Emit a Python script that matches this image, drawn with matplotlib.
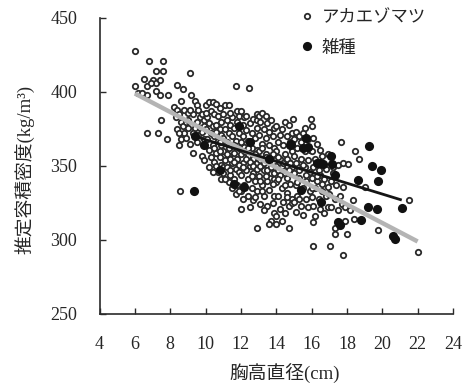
import matplotlib
matplotlib.use("Agg")
import matplotlib.pyplot as plt
import numpy as np

# ---- data ----
aka_pts = [
    (6.0,428),(6.0,404),(6.8,421),(7.6,421),(7.2,414),(7.6,414),(6.5,409),(7.0,408),(7.2,406),(7.4,408),
    (6.7,404),(6.9,406),(6.2,399),(6.7,398),(7.2,401),(7.4,398),(7.9,398),(6.7,372),(7.3,372),(7.5,381),
    (7.8,368),(6.4,399),(9.1,413),(8.4,405),(8.75,402),
    (8.2,390),(8.4,388),(8.3,383),(8.5,385),(8.6,380),(8.4,375),(8.7,377),(8.9,380),(8.8,372),(8.5,372),
    (9.0,376),(8.6,368),(8.5,364),(8.9,369),(9.1,365),(8.8,388),(9.0,386),(8.6,394),(8.55,333),
    (9.2,398),(9.4,394),(9.5,391),(9.3,385),(9.6,388),(9.7,383),(9.5,380),(9.8,385),(9.9,381),(9.4,376),
    (9.7,376),(9.9,377),(9.3,372),(9.6,371),(9.8,373),(9.5,366),(9.9,368),(9.3,359),(9.8,357),(9.9,354),
    (9.1,388),(9.0,381),
    (10.0,391),(10.2,393),(10.4,393),(10.6,392),(10.8,389),(10.3,387),(10.5,385),(10.1,383),(10.7,384),(10.9,380),
    (10.2,379),(10.4,377),(10.6,378),(10.0,375),(10.8,375),(10.3,372),(10.5,370),(10.9,371),(10.1,368),(10.7,367),
    (10.4,364),(10.9,364),(10.2,361),(10.6,359),(10.8,356),(10.5,353),(10.9,351),(10.3,356),(10.7,346),(11.0,349),
    (10.6,373),(10.0,386),(10.9,341),(10.6,350),
    (11.1,391),(11.3,391),(11.0,385),(11.2,381),(11.5,383),(11.4,378),(11.1,375),(11.6,376),(11.8,380),(11.3,372),
    (11.0,369),(11.5,370),(11.9,372),(11.2,366),(11.7,367),(11.4,363),(11.0,360),(11.9,362),(11.6,359),(11.3,357),
    (11.1,354),(11.8,355),(11.5,352),(11.2,349),(11.7,348),(11.0,345),(11.4,344),(11.9,346),(11.6,341),(11.3,339),
    (11.8,337),(11.5,335),(11.1,341),(11.75,404),(11.8,387),(11.9,384),(11.7,331),(11.4,386),
    (12.0,387),(12.2,383),(12.45,403),(12.5,379),(12.1,378),(12.7,382),(12.9,385),(12.3,374),(12.6,372),(12.9,376),
    (12.1,370),(12.4,367),(12.8,369),(12.2,363),(12.6,362),(12.0,358),(12.9,361),(12.4,357),(12.7,355),(12.1,352),
    (12.5,350),(12.9,352),(12.3,347),(12.7,345),(12.0,344),(12.4,341),(12.8,340),(12.2,337),(12.6,335),(12.0,333),
    (12.9,333),(12.4,330),(12.1,328),(12.7,327),(12.0,321),(12.5,322),(12.9,381),(12.3,384),
    (13.0,384),(13.2,386),(13.4,384),(13.1,380),(13.5,379),(13.7,381),(13.3,375),(13.6,373),(13.9,376),(13.0,371),
    (13.4,369),(13.8,370),(13.2,365),(13.6,364),(13.0,360),(13.9,362),(13.4,358),(13.7,356),(13.1,354),(13.5,351),
    (13.9,352),(13.3,347),(13.7,345),(13.0,343),(13.5,340),(13.9,341),(13.2,337),(13.6,334),(13.9,330),(13.3,330),
    (13.8,325),(13.5,323),(13.1,324),(13.9,318),(13.7,313),(12.9,308),(13.3,320),(13.6,311),
    (14.0,377),(14.3,375),(14.5,380),(14.7,378),(14.96,382),(14.2,371),(14.6,370),(14.9,372),(14.1,366),(14.4,364),
    (14.8,366),(14.0,360),(14.5,358),(14.9,360),(14.2,355),(14.7,353),(14.0,350),(14.4,348),(14.9,349),(14.2,344),
    (14.6,342),(14.0,339),(14.8,338),(14.3,335),(14.6,332),(14.1,330),(14.9,328),(14.4,326),(14.7,323),(14.2,321),
    (14.5,318),(14.0,316),(14.3,313),(14.7,308),(14.0,311),(14.9,325),
    (15.1,373),(15.3,370),(15.5,372),(15.0,368),(15.4,366),(15.8,368),(15.2,362),(15.6,360),(15.9,361),(15.0,357),
    (15.4,355),(15.8,354),(15.2,350),(15.6,349),(15.0,345),(15.9,346),(15.3,342),(15.7,340),(15.1,337),(15.5,335),
    (15.9,333),(15.2,330),(15.7,328),(15.0,326),(15.4,323),(15.8,322),(15.1,319),(15.5,317),(15.95,382),(15.6,376),
    (16.0,377),(16.1,369),(16.3,365),(16.0,360),(16.5,361),(16.2,355),(16.6,357),(16.9,358),(16.1,349),(16.4,347),
    (16.8,348),(16.0,342),(16.3,340),(16.7,341),(16.2,335),(16.6,333),(16.9,336),(16.0,329),(16.4,328),(16.8,330),
    (16.1,323),(16.5,321),(16.9,322),(16.2,316),(16.1,312),(16.7,318),(16.1,296),(16.5,344),
    (17.2,349),(17.5,351),(17.1,340),(17.4,337),(17.8,336),(17.0,331),(17.3,328),(17.7,324),(17.1,322),(17.5,320),
    (17.9,322),(17.66,366),(17.3,308),(17.3,304),(17.98,304),(17.04,296),(17.8,290),(17.2,345),(17.9,313),(17.6,330),
    (17.8,352),
    (18.07,351.5),(18.45,360.4),(18.35,327),(18.4,314),(19.0,336),(18.7,355),(19.77,307),(21.5,327),(22.04,292),(18.2,320),
    (10.5,362),(10.8,360),(11.2,358),(11.4,355),(11.6,353),(11.9,351),(12.1,349),(12.3,355),(12.5,353),(12.7,350),
    (12.9,348),(13.1,350),(13.3,352),(13.5,347),(13.7,349),(13.9,345),(14.1,347),(14.3,350),(14.5,345),(14.7,347),
    (12.2,360),(12.4,362),(12.8,358),(13.2,362),(13.4,356),(13.8,358),(14.1,356),(14.4,352),(14.6,355),(14.8,352),
    (11.3,362),(11.6,364),(10.8,366),(12.0,366),(12.6,343),(13.1,340),(13.4,343),(13.8,338),(14.1,341),(14.5,337),
    (15.1,352),(15.3,347),(15.5,351),(15.7,344),(15.2,339),(16.3,343),(16.6,338),(16.0,335),(15.3,328),(14.6,329),
    (13.2,333),(12.8,329),(11.9,333),(11.4,347),(10.2,349),(10.4,346),
]
aka_x = [p[0] for p in aka_pts]
aka_y = [p[1] for p in aka_pts]

hyb_pts = [
    (9.34,333),(9.4,370),(9.9,364),(10.8,347),(11.9,377),(12.5,366),(14.75,364),(14.86,365),(15.5,362),(15.7,369),
    (15.8,363),(15.4,334),(16.5,352),(16.65,351.5),(16.55,325.6),(17.07,356.6),(17.18,351.5),(17.3,344),(17.5,312),
    (17.6,310),(18.63,340.7),(18.8,313.3),(19.2,322.3),(19.24,363.8),(19.39,350.3),(19.7,321.2),(19.76,339.8),
    (19.95,347.4),(20.6,302.5),(20.7,301),(21.09,321.8),(11.6,338),(12.2,336),(13.6,355),(16.3,352),
]
hyb_x = [p[0] for p in hyb_pts]
hyb_y = [p[1] for p in hyb_pts]

gray_line_x = [6.0, 22.0]
gray_line_y = [399.0, 299.0]
black_line_x = [9.4, 21.1]
black_line_y = [370.0, 327.0]

labels = ["アカエゾマツ", "雑種"]
xticks = [4, 6, 8, 10, 12, 14, 16, 18, 20, 22, 24]
yticks = [250, 300, 350, 400, 450]

# ---- figure ----
W, H = 467, 383
fig = plt.figure(figsize=(W/100, H/100), dpi=100)
ax = fig.add_axes([99.5/W, 1-314/H, 353.5/W, 296/H])

serif = ['Liberation Serif', 'Noto Sans CJK JP']
cjk = ['Noto Sans CJK JP', 'Liberation Serif']
tc = '#262626'

ax.plot(aka_x, aka_y, linestyle='none', marker='o', ms=3.9, mew=1.3,
        mfc='white', mec='#2a2a2a', zorder=2, label=labels[0])
ax.plot(gray_line_x, gray_line_y, color='#b4b4b4', lw=3.2, zorder=3, solid_capstyle='butt')
ax.plot(black_line_x, black_line_y, color='#151515', lw=2.0, zorder=4, solid_capstyle='butt')
ax.plot(hyb_x, hyb_y, linestyle='none', marker='o', ms=6.6, mew=0,
        mfc='#111111', zorder=5, label=labels[1])

ax.set_xlim(4, 24)
ax.set_ylim(250, 450)
ax.set_xticks(xticks)
ax.set_yticks(yticks)
for s in ['top', 'right']:
    ax.spines[s].set_visible(False)
for s in ['left', 'bottom']:
    ax.spines[s].set_linewidth(1.2)
    ax.spines[s].set_color('#2a2a2a')
ax.tick_params(direction='in', length=4, width=1.0, color='#2a2a2a', pad=16,
               labelsize=13, labelcolor=tc)
for lab in ax.get_xticklabels() + ax.get_yticklabels():
    lab.set_family(serif)

fig.text(25/W, 1-169/H, "推定容積密度(kg/m³)", rotation=90, ha='center', va='center',
         fontsize=13.5, color=tc, family=serif)
fig.text(285/W, 1-374/H, "胸高直径(cm)", ha='center', va='center',
         fontsize=13.5, color=tc, family=serif)

leg = ax.legend(loc='upper left', bbox_to_anchor=(300/W, 1-8/H), bbox_transform=fig.transFigure,
                frameon=False, borderpad=0, borderaxespad=0, handlelength=0.8, handletextpad=0.45,
                labelspacing=0.72, prop={'family': cjk, 'size': 12.5})
for t in leg.get_texts():
    t.set_color(tc)

fig.savefig("out.png", dpi=100, facecolor='white')
